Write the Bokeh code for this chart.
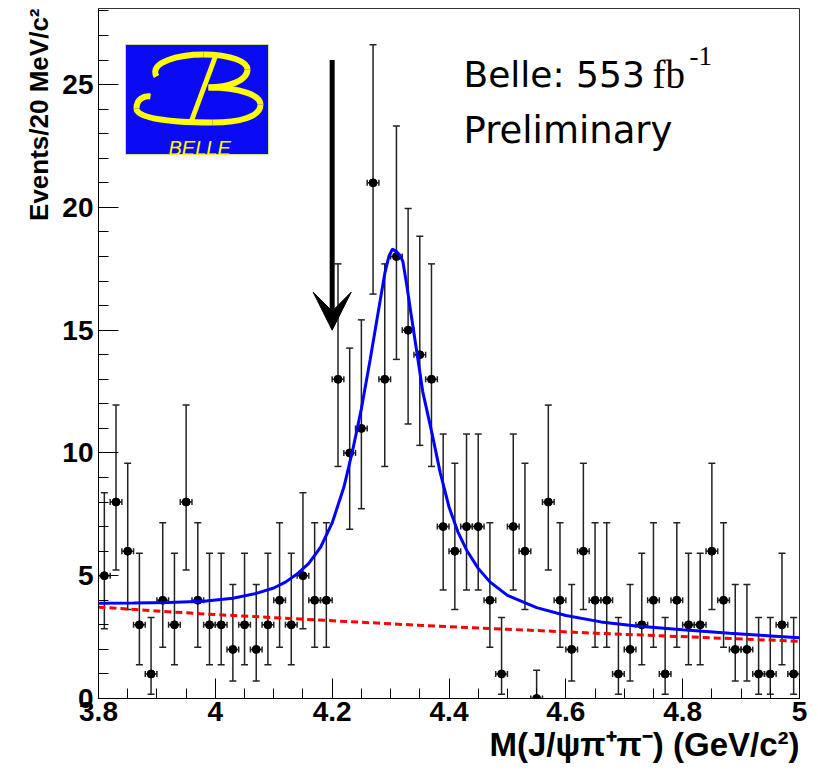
from bokeh.core.properties import value
from bokeh.embed import file_html
from bokeh.models import (Arrow, ColumnDataSource, FixedTicker, Label, Range1d,
                          TeeHead, Title, VeeHead, Whisker)
from bokeh.plotting import figure
from bokeh.resources import INLINE

# ---------------------------------------------------------------------------
# Data: J/psi pi+ pi- invariant mass, 20 MeV/c^2 bins
# ---------------------------------------------------------------------------
bin_centers = [
    3.81, 3.83, 3.85, 3.87, 3.89, 3.91, 3.93, 3.95, 3.97, 3.99,
    4.01, 4.03, 4.05, 4.07, 4.09, 4.11, 4.13, 4.15, 4.17, 4.19,
    4.21, 4.23, 4.25, 4.27, 4.29, 4.31, 4.33, 4.35, 4.37, 4.39,
    4.41, 4.43, 4.45, 4.47, 4.49, 4.51, 4.53, 4.55, 4.57, 4.59,
    4.61, 4.63, 4.65, 4.67, 4.69, 4.71, 4.73, 4.75, 4.77, 4.79,
    4.81, 4.83, 4.85, 4.87, 4.89, 4.91, 4.93, 4.95, 4.97, 4.99,
]
counts = [
    5, 8, 6, 3, 1, 4, 3, 8, 4, 3,
    3, 2, 3, 2, 3, 4, 3, 5, 4, 4,
    13, 10, 11, 21, 13, 18, 15, 14, 13, 7,
    6, 7, 7, 4, 1, 7, 6, 0, 8, 4,
    2, 6, 4, 4, 1, 2, 3, 4, 1, 4,
    3, 3, 6, 4, 2, 2, 1, 1, 3, 1,
]
half_bin = 0.01

# 68% Poisson interval bounds drawn for each observed count
interval_low = {0: 0.0, 1: 0.17, 2: 0.71, 3: 1.37, 4: 2.09, 5: 2.84, 6: 3.62,
                7: 4.42, 8: 5.23, 10: 6.89, 11: 7.73, 13: 9.45, 14: 10.31,
                15: 11.18, 18: 13.81, 21: 16.47}
interval_high = {0: 1.15, 1: 3.30, 2: 4.64, 3: 5.92, 4: 7.16, 5: 8.38, 6: 9.58,
                 7: 10.77, 8: 11.95, 10: 14.27, 11: 15.42, 13: 17.70, 14: 18.83,
                 15: 19.96, 18: 23.31, 21: 26.62}

# Fit result: signal + background (solid) and background only (dashed)
fit_mass = [3.80, 3.86, 3.92, 3.98, 4.03, 4.07, 4.10, 4.12, 4.14, 4.16,
            4.18, 4.20, 4.22, 4.235, 4.25, 4.265, 4.28, 4.29, 4.297, 4.303,
            4.31, 4.316, 4.321, 4.328, 4.335, 4.345, 4.355, 4.37, 4.385, 4.40,
            4.415, 4.43, 4.45, 4.47, 4.50, 4.55, 4.60, 4.66, 4.72, 4.80,
            4.88, 4.95, 5.00]
fit_total = [3.88, 3.89, 3.91, 3.96, 4.08, 4.28, 4.50, 4.74, 5.07, 5.50,
             6.15, 7.15, 8.60, 10.1, 11.8, 13.8, 15.9, 17.3, 18.0, 18.3,
             18.2, 18.05, 17.8, 16.8, 15.66, 14.1, 12.5, 10.9, 9.2, 7.8,
             6.8, 6.05, 5.3, 4.75, 4.2, 3.7, 3.38, 3.12, 2.95, 2.80,
             2.66, 2.55, 2.47]
bkg_mass = [3.80, 3.975, 4.19, 4.35, 4.66, 4.83, 5.00]
bkg_level = [3.72, 3.45, 3.18, 2.98, 2.65, 2.49, 2.33]

# Arrow marking 4.2 GeV/c^2
arrow_mass = 4.2
arrow_from, arrow_to = 26.0, 15.0

# Axes
x_ticks = [3.8, 4.0, 4.2, 4.4, 4.6, 4.8, 5.0]
x_tick_labels = ["3.8", "4", "4.2", "4.4", "4.6", "4.8", "5"]
x_minor = [3.85, 3.9, 3.95, 4.05, 4.1, 4.15, 4.25, 4.3, 4.35, 4.45, 4.5, 4.55,
           4.65, 4.7, 4.75, 4.85, 4.9, 4.95]
y_ticks = [0, 5, 10, 15, 20, 25]
y_minor = [1, 2, 3, 4, 6, 7, 8, 9, 11, 12, 13, 14, 16, 17, 18, 19, 21, 22, 23,
           24, 26, 27, 28]
x_title = "M(J/\u03c8\u03c0\u207a\u03c0\u207b) (GeV/c\u00b2)"
y_title = "Events/20 MeV/c\u00b2"

# ---------------------------------------------------------------------------
W, H = 818, 771
LEFT, RIGHT, TOP, BOTTOM = 98, 799, 8, 698

p = figure(width=W, height=H, x_range=Range1d(3.8, 5.0), y_range=Range1d(0, 28.1),
           output_backend="svg", toolbar_location=None,
           min_border_left=LEFT, min_border_right=W - RIGHT,
           min_border_top=TOP, min_border_bottom=H - BOTTOM)
p.background_fill_color = "white"
p.border_fill_color = "white"
p.outline_line_color = "#333333"
p.outline_line_width = 1
p.xgrid.visible = False
p.ygrid.visible = False

# page-pixel coordinate system for decorations inside the frame
p.extra_x_ranges["px"] = Range1d(LEFT, RIGHT)
p.extra_y_ranges["px"] = Range1d(BOTTOM, TOP)

tick_font = "Liberation Sans"
for ax in (p.xaxis[0], p.yaxis[0]):
    ax.axis_line_color = "black"
    ax.axis_line_width = 1
    ax.major_tick_line_color = "black"
    ax.minor_tick_line_color = "black"
    ax.major_tick_out = 0
    ax.minor_tick_out = 0
    ax.major_tick_in = 20
    ax.minor_tick_in = 10
    ax.major_label_text_font = tick_font
    ax.major_label_text_font_style = "bold"
    ax.major_label_text_font_size = "28px"
    ax.major_label_text_color = "black"

p.xaxis.ticker = FixedTicker(ticks=x_ticks, minor_ticks=x_minor)
p.xaxis.major_label_overrides = dict(zip(x_ticks, x_tick_labels))
p.xaxis.major_label_standoff = 3
p.yaxis.ticker = FixedTicker(ticks=y_ticks, minor_ticks=y_minor)
p.yaxis.major_label_standoff = 5

# axis titles, aligned to the far end of each axis
p.add_layout(Title(text=x_title, align="right", text_font=tick_font,
                   text_font_style="bold", text_font_size="33px", standoff=0,
                   text_color="black"), "below")
p.add_layout(Title(text=y_title, align="right", text_font=tick_font,
                   text_font_style="bold", text_font_size="26px", standoff=12,
                   text_color="black"), "left")

# ---------------------------------------------------------------------------
# Data points with Poisson error bars
src = ColumnDataSource(dict(
    x=bin_centers,
    y=counts,
    lo=[interval_low[c] for c in counts],
    hi=[interval_high[c] for c in counts],
    xl=[c - half_bin for c in bin_centers],
    xr=[c + half_bin for c in bin_centers],
))
err_color = "#222222"
p.add_layout(Whisker(source=src, base="x", lower="lo", upper="hi", dimension="height",
                     line_color=err_color, line_width=1.5,
                     lower_head=TeeHead(size=7, line_color=err_color, line_width=1.5),
                     upper_head=TeeHead(size=7, line_color=err_color, line_width=1.5)))
p.add_layout(Whisker(source=src, base="y", lower="xl", upper="xr", dimension="width",
                     line_color=err_color, line_width=1.5,
                     lower_head=TeeHead(size=6, line_color=err_color, line_width=1.5),
                     upper_head=TeeHead(size=6, line_color=err_color, line_width=1.5)))
p.scatter("x", "y", source=src, marker="circle", size=8, color="black")

# Fit curves
p.line(bkg_mass, bkg_level, line_color="#ff0000", line_width=3, line_dash="7 4")
p.line(fit_mass, fit_total, line_color="#0000ff", line_width=3)

# Arrow
p.add_layout(Arrow(x_start=arrow_mass, y_start=arrow_from, x_end=arrow_mass, y_end=arrow_to,
                   line_color="black", line_width=5,
                   end=VeeHead(size=38, fill_color="black", line_color="black")))

# ---------------------------------------------------------------------------
# Belle logo (page pixel coordinates)
px = dict(x_range_name="px", y_range_name="px")
p.quad(left=125, right=268, top=44, bottom=154, fill_color="#0a0af5",
       line_color="#d8d890", line_width=1, **px)
yellow = "#ffff00"
logo_curves = dict(
    x0=[156, 203, 247, 208, 260, 212, 136],
    y0=[76, 54, 69, 87, 104, 122, 108],
    x1=[203, 247, 208, 260, 212, 136, 150],
    y1=[54, 69, 87, 104, 122, 108, 96],
    cx0=[148, 230, 247, 240, 260, 170, 136],
    cy0=[62, 54, 80, 87, 116, 122, 99],
    cx1=[178, 247, 228, 260, 240, 136, 143],
    cy1=[54, 61, 87, 95, 122, 118, 95],
)
p.bezier(source=ColumnDataSource(logo_curves), x0="x0", y0="y0", x1="x1", y1="y1",
         cx0="cx0", cy0="cy0", cx1="cx1", cy1="cy1", line_color=yellow, line_width=6,
         **px)
p.segment(x0=[216], y0=[53], x1=[190], y1=[123], line_color=yellow, line_width=5, **px)
p.text(x=[168], y=[147], text=["BELLE"], text_color=yellow,
       text_font=value("Liberation Sans"), text_font_style="italic",
       text_font_size="20px", text_baseline="alphabetic", **px)


# ---------------------------------------------------------------------------
# Texts inside the frame
def label(x, y, text, font, size, style="normal", align="left"):
    p.add_layout(Label(x=x, y=y, text=text, text_font=font, text_font_size=size,
                       text_font_style=style, text_align=align,
                       text_baseline="alphabetic", text_color="black", **px))


label(463, 74, "Belle: 553", "DejaVu Sans", "36px")
label(652, 74, "fb", "Liberation Serif", "39px")
label(689, 55, "-1", "Liberation Serif", "27px")
label(463, 130, "Preliminary", "DejaVu Sans", "37px")

open("out.html", "w").write(file_html(p, INLINE))
